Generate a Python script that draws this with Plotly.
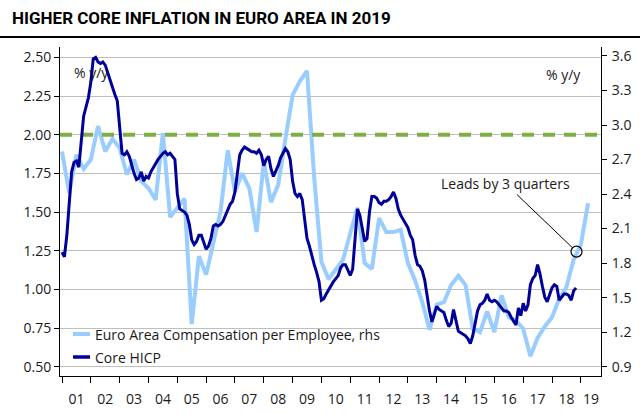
import plotly.graph_objects as go

# ---------------- data ----------------
title_text = "HIGHER CORE INFLATION IN EURO AREA IN 2019"

# Core HICP, % y/y, monthly from Jan 2001 (left axis)
core_start_year = 2001
core_hicp = [
    1.24, 1.21, 1.35, 1.55, 1.76, 1.82, 1.83, 1.79, 1.95, 2.12, 2.18, 2.24,  # 2001
    2.34, 2.49, 2.50, 2.47, 2.46, 2.47, 2.45, 2.40, 2.35, 2.30, 2.26, 2.22,  # 2002
    2.05, 1.88, 1.87, 1.89, 1.86, 1.80, 1.75, 1.71, 1.72, 1.76, 1.70, 1.73,  # 2003
    1.72, 1.76, 1.79, 1.81, 1.84, 1.86, 1.88, 1.89, 1.87, 1.88, 1.86, 1.84,  # 2004
    1.62, 1.52, 1.51, 1.50, 1.48, 1.42, 1.32, 1.29, 1.31, 1.35, 1.35, 1.31,  # 2005
    1.26, 1.28, 1.33, 1.41, 1.42, 1.41, 1.42, 1.44, 1.48, 1.52, 1.55, 1.57,  # 2006
    1.63, 1.75, 1.87, 1.90, 1.92, 1.91, 1.90, 1.89, 1.89, 1.88, 1.90, 1.87,  # 2007
    1.80, 1.84, 1.86, 1.78, 1.73, 1.76, 1.80, 1.85, 1.88, 1.91, 1.89, 1.84,  # 2008
    1.70, 1.62, 1.60, 1.62, 1.58, 1.45, 1.33, 1.28, 1.21, 1.16, 1.11, 1.05,  # 2009
    0.93, 0.94, 0.97, 1.00, 1.03, 1.05, 1.07, 1.09, 1.14, 1.16, 1.16, 1.13,  # 2010
    1.09, 1.13, 1.32, 1.52, 1.48, 1.40, 1.31, 1.33, 1.50, 1.60, 1.60, 1.59,  # 2011
    1.56, 1.55, 1.57, 1.57, 1.58, 1.60, 1.63, 1.59, 1.52, 1.48, 1.45, 1.42,  # 2012
    1.40, 1.35, 1.32, 1.22, 1.16, 1.15, 1.12, 1.06, 0.95, 0.86, 0.79, 0.84,  # 2013
    0.89, 0.87, 0.86, 0.85, 0.80, 0.76, 0.78, 0.87, 0.80, 0.73, 0.72, 0.71,  # 2014
    0.70, 0.68, 0.65, 0.70, 0.78, 0.86, 0.90, 0.91, 0.93, 0.97, 0.93, 0.92,  # 2015
    0.93, 0.92, 0.90, 0.88, 0.86, 0.86, 0.85, 0.82, 0.79, 0.77, 0.88, 0.83,  # 2016
    0.91, 0.86, 0.90, 1.03, 1.07, 1.09, 1.16, 1.10, 1.02, 0.95, 0.92, 0.97,  # 2017
    1.01, 1.03, 1.02, 0.93, 0.95, 0.97, 0.97, 0.96, 0.93, 0.99, 1.01,        # 2018
]

# Euro Area compensation per employee, % y/y, quarterly, shown 3 quarters ahead (right axis)
comp_start = 2001.0
comp_per_employee = [
    2.77, 2.41, 2.74, 2.62,   # 2001 (plotted)
    2.70, 2.99, 2.77, 2.88,   # 2002
    2.80, 2.57, 2.70, 2.51,   # 2003
    2.45, 2.35, 2.93, 2.20,   # 2004
    2.28, 2.36, 1.27, 1.86,   # 2005
    1.70, 1.99, 2.25, 2.78,   # 2006
    2.42, 2.58, 2.45, 2.07,   # 2007
    2.68, 2.33, 2.48, 2.88,   # 2008
    3.26, 3.38, 3.47, 2.54,   # 2009
    1.81, 1.66, 1.74, 1.83,   # 2010
    2.06, 2.28, 1.80, 1.75,   # 2011
    2.19, 2.07, 2.07, 2.09,   # 2012
    1.80, 1.65, 1.46, 1.22,   # 2013
    1.44, 1.46, 1.61, 1.69,   # 2014
    1.61, 1.23, 1.20, 1.38,   # 2015
    1.20, 1.52, 1.33, 1.30,   # 2016
    1.23, 0.99, 1.15, 1.25,   # 2017
    1.33, 1.49, 1.59, 1.83,   # 2018
    1.96, 2.32,               # 2019
]

series_names = ["Euro Area Compensation per Employee, rhs", "Core HICP"]
year_labels = ["01", "02", "03", "04", "05", "06", "07", "08", "09", "10",
               "11", "12", "13", "14", "15", "16", "17", "18", "19"]
left_ticks = [0.50, 0.75, 1.00, 1.25, 1.50, 1.75, 2.00, 2.25, 2.50]
right_ticks = [0.9, 1.2, 1.5, 1.8, 2.1, 2.4, 2.7, 3.0, 3.3, 3.6]
target_level = 2.00
lead_point = (2018.85, 1.90)
lead_text = "Leads by 3 quarters"
unit_text = "% y/y"

x_range = [2000.93, 2019.70]
left_range = [0.44, 2.567]
right_range = [0.819, 3.678]

# ---------------- derived x positions ----------------
core_x = [core_start_year + i / 12 for i in range(len(core_hicp))]
comp_x = [comp_start + i / 4 for i in range(len(comp_per_employee))]
years = [2001 + i for i in range(len(year_labels))]
label_pos = [y + 0.5 for y in years[:-1]] + [years[-1] + 0.35]

LIGHT = "#99CCFF"
DARK = "#000099"
GREEN = "#7FAE45"
FONT = "Open Sans, Noto Sans, DejaVu Sans, sans-serif"
TXT = "#1a1a1a"

fig = go.Figure()

fig.add_trace(go.Scatter(
    x=comp_x, y=comp_per_employee, mode="lines", yaxis="y",
    name=series_names[0], line=dict(color=LIGHT, width=4),
))
fig.add_trace(go.Scatter(
    x=[lead_point[0]], y=[lead_point[1]], mode="markers", yaxis="y",
    marker=dict(size=11, color="rgba(0,0,0,0)", line=dict(color="black", width=1.2)),
    showlegend=False, hoverinfo="skip",
))
# 2% target dashed line (left axis)
fig.add_trace(go.Scatter(
    x=x_range, y=[target_level, target_level], mode="lines", yaxis="y2",
    line=dict(color=GREEN, width=4, dash="12px,9px"), showlegend=False, hoverinfo="skip",
))
fig.add_trace(go.Scatter(
    x=core_x, y=core_hicp, mode="lines", yaxis="y2",
    name=series_names[1], line=dict(color=DARK, width=3),
))

L, R, T, B = 60, 39, 47, 38
W, H = 640, 414
pw, ph = W - L - R, H - T - B


def px(xp):
    return (xp - L) / pw


def py(yp):
    return (H - B - yp) / ph


fig.update_layout(
    width=W, height=H,
    margin=dict(l=L, r=R, t=T, b=B, autoexpand=False),
    paper_bgcolor="white", plot_bgcolor="white",
    font=dict(family=FONT, size=14, color=TXT),
    title=dict(
        text=title_text, x=12 / W, xanchor="left", xref="container",
        y=1 - 18 / H, yanchor="middle", yref="container",
        font=dict(family="Roboto, Liberation Sans, Arial, sans-serif",
                  size=17, color="black", weight=700),
    ),
    xaxis=dict(
        range=x_range, tickmode="array", tickvals=label_pos, ticktext=year_labels,
        ticks="outside", ticklen=10, tickcolor="rgba(0,0,0,0)",
        showgrid=False, zeroline=False, showline=True, linecolor="black", linewidth=1,
        tickfont=dict(size=14, color=TXT),
        minor=dict(tickmode="array", tickvals=years, ticks="outside", ticklen=6,
                   tickcolor="black", tickwidth=1, showgrid=False),
    ),
    yaxis=dict(
        side="right", range=right_range, tickmode="array", tickvals=right_ticks,
        tickformat=".1f", ticks="outside", ticklen=5, tickcolor="black",
        showline=True, linecolor="black", linewidth=1, showgrid=False, zeroline=False,
        tickfont=dict(size=14, color=TXT), ticklabelstandoff=2,
    ),
    yaxis2=dict(
        side="left", overlaying="y", range=left_range, tickmode="array", tickvals=left_ticks,
        tickformat=".2f", ticks="outside", ticklen=5, tickcolor="black",
        showline=True, linecolor="black", linewidth=1, showgrid=True, gridcolor="#BFBFBF",
        gridwidth=1, zeroline=False, tickfont=dict(size=14, color=TXT),
    ),
    showlegend=False,
)

# rule under the title
fig.add_shape(type="line", xref="paper", x0=px(0), x1=px(W),
              yref="paper", y0=py(37), y1=py(37), line=dict(color="black", width=2))

# legend (drawn inside the plot, bottom left)
for name, color, width, ypix in [(series_names[0], LIGHT, 4, 334), (series_names[1], DARK, 3.5, 357)]:
    fig.add_shape(type="line", xref="paper", yref="paper", x0=px(73), x1=px(90),
                  y0=py(ypix), y1=py(ypix), line=dict(color=color, width=width))
    fig.add_annotation(xref="paper", yref="paper", x=px(93), y=py(ypix), xanchor="left",
                       yanchor="middle", text=name, showarrow=False,
                       font=dict(size=14, color=TXT))

fig.add_annotation(xref="paper", yref="paper", x=px(91), y=py(72), xanchor="center",
                   yanchor="middle", text=unit_text, showarrow=False, font=dict(size=14, color=TXT))
fig.add_annotation(xref="paper", yref="paper", x=px(563), y=py(74), xanchor="center",
                   yanchor="middle", text=unit_text, showarrow=False, font=dict(size=14, color=TXT))
fig.add_annotation(x=lead_point[0], y=lead_point[1], xref="x", yref="y", text=lead_text,
                   showarrow=True, arrowhead=0, arrowwidth=1, arrowcolor="black",
                   ax=-71, ay=-68, standoff=6, font=dict(size=14, color=TXT))

fig.write_html("out.html", config={"displayModeBar": False},
               post_script="document.body.style.margin='0';document.body.style.padding='0';")
